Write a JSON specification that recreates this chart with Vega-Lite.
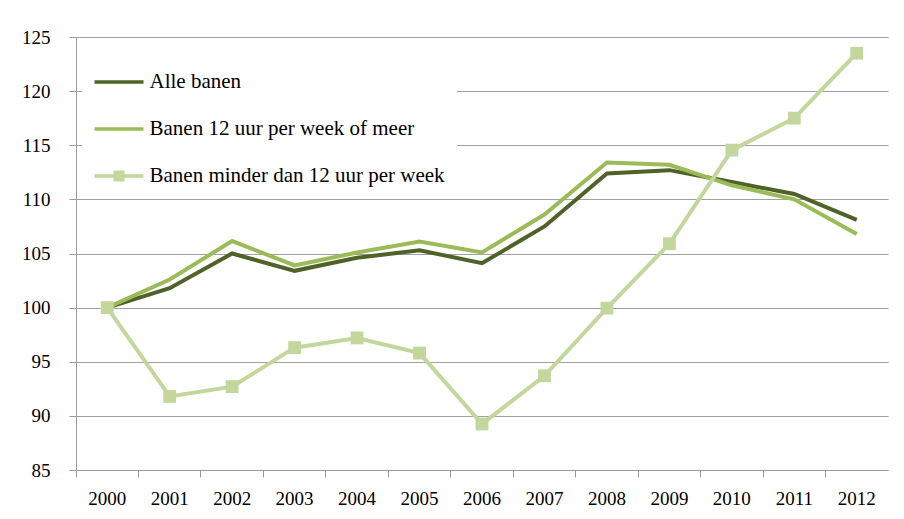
{
  "$schema": "https://vega.github.io/schema/vega-lite/v6.json",
  "width": 812,
  "height": 433,
  "autosize": {"type": "none"},
  "padding": {"left": 76, "top": 37, "right": 16, "bottom": 49},
  "background": "white",
  "config": {
    "view": {"stroke": null},
    "font": "'Liberation Serif', 'DejaVu Serif', serif"
  },
  "data": {
    "values": [
      {"year": "2000", "series": "Alle banen", "value": 100},
      {"year": "2001", "series": "Alle banen", "value": 101.8},
      {"year": "2002", "series": "Alle banen", "value": 105.0},
      {"year": "2003", "series": "Alle banen", "value": 103.4},
      {"year": "2004", "series": "Alle banen", "value": 104.6},
      {"year": "2005", "series": "Alle banen", "value": 105.3},
      {"year": "2006", "series": "Alle banen", "value": 104.1},
      {"year": "2007", "series": "Alle banen", "value": 107.5},
      {"year": "2008", "series": "Alle banen", "value": 112.4},
      {"year": "2009", "series": "Alle banen", "value": 112.7},
      {"year": "2010", "series": "Alle banen", "value": 111.6},
      {"year": "2011", "series": "Alle banen", "value": 110.5},
      {"year": "2012", "series": "Alle banen", "value": 108.1},
      {"year": "2000", "series": "Banen 12 uur per week of meer", "value": 100},
      {"year": "2001", "series": "Banen 12 uur per week of meer", "value": 102.6},
      {"year": "2002", "series": "Banen 12 uur per week of meer", "value": 106.15},
      {"year": "2003", "series": "Banen 12 uur per week of meer", "value": 103.9},
      {"year": "2004", "series": "Banen 12 uur per week of meer", "value": 105.1},
      {"year": "2005", "series": "Banen 12 uur per week of meer", "value": 106.1},
      {"year": "2006", "series": "Banen 12 uur per week of meer", "value": 105.1},
      {"year": "2007", "series": "Banen 12 uur per week of meer", "value": 108.6},
      {"year": "2008", "series": "Banen 12 uur per week of meer", "value": 113.4},
      {"year": "2009", "series": "Banen 12 uur per week of meer", "value": 113.2},
      {"year": "2010", "series": "Banen 12 uur per week of meer", "value": 111.3},
      {"year": "2011", "series": "Banen 12 uur per week of meer", "value": 110.0},
      {"year": "2012", "series": "Banen 12 uur per week of meer", "value": 106.8},
      {"year": "2000", "series": "Banen minder dan 12 uur per week", "value": 100},
      {"year": "2001", "series": "Banen minder dan 12 uur per week", "value": 91.8},
      {"year": "2002", "series": "Banen minder dan 12 uur per week", "value": 92.7},
      {"year": "2003", "series": "Banen minder dan 12 uur per week", "value": 96.3},
      {"year": "2004", "series": "Banen minder dan 12 uur per week", "value": 97.2},
      {"year": "2005", "series": "Banen minder dan 12 uur per week", "value": 95.8},
      {"year": "2006", "series": "Banen minder dan 12 uur per week", "value": 89.25},
      {"year": "2007", "series": "Banen minder dan 12 uur per week", "value": 93.7},
      {"year": "2008", "series": "Banen minder dan 12 uur per week", "value": 99.95},
      {"year": "2009", "series": "Banen minder dan 12 uur per week", "value": 105.9},
      {"year": "2010", "series": "Banen minder dan 12 uur per week", "value": 114.55},
      {"year": "2011", "series": "Banen minder dan 12 uur per week", "value": 117.5},
      {"year": "2012", "series": "Banen minder dan 12 uur per week", "value": 123.5}
    ]
  },
  "encoding": {
    "x": {
      "field": "year",
      "type": "ordinal",
      "scale": {"type": "band", "paddingInner": 0, "paddingOuter": 0},
      "axis": {
        "title": null,
        "bandPosition": 0,
        "labelAngle": 0,
        "labelFont": "'Liberation Serif', 'DejaVu Serif', serif",
        "labelFontSize": 19,
        "labelColor": "#000000",
        "labelPadding": 12,
        "tickSize": 7,
        "tickColor": "#9a9a9a",
        "domainColor": "#9a9a9a",
        "grid": false
      }
    },
    "y": {
      "field": "value",
      "type": "quantitative",
      "scale": {"domain": [85, 125], "zero": false, "nice": false},
      "axis": {
        "title": null,
        "values": [85, 90, 95, 100, 105, 110, 115, 120, 125],
        "labelFont": "'Liberation Serif', 'DejaVu Serif', serif",
        "labelFontSize": 19,
        "labelColor": "#000000",
        "labelPadding": 19,
        "tickSize": 7,
        "tickColor": "#9a9a9a",
        "domainColor": "#9a9a9a",
        "grid": true,
        "gridColor": "#a0a0a0",
        "gridWidth": 1
      }
    },
    "color": {
      "field": "series",
      "type": "nominal",
      "scale": {
        "domain": ["Alle banen", "Banen 12 uur per week of meer", "Banen minder dan 12 uur per week"],
        "range": ["#4F6228", "#9BBB59", "#C3D69B"]
      },
      "legend": {
        "title": null,
        "orient": "none",
        "legendX": 6,
        "legendY": 22.5,
        "padding": 12,
        "fillColor": "white",
        "labelFont": "'Liberation Serif', 'DejaVu Serif', serif",
        "labelFontSize": 21,
        "labelColor": "#000000",
        "labelLimit": 500,
        "labelOffset": 34.5,
        "symbolSize": 400,
        "symbolType": "M-1,-0.175H3.9V0.175H-1Z",
        "symbolStrokeWidth": 0,
        "rowPadding": 25,
        "encode": {
          "symbols": {
            "update": {
              "shape": {"signal": "datum.value === 'Banen minder dan 12 uur per week' ? 'M-1,-0.175H3.9V0.175H-1Z M0.9,-0.55H2.0V0.55H0.9Z' : 'M-1,-0.175H3.9V0.175H-1Z'"},
              "fill": {"scale": "color", "field": "value"},
              "fillOpacity": {"value": 1},
              "strokeWidth": {"value": 0}
            }
          }
        }
      }
    }
  },
  "layer": [
    {
      "mark": {"type": "line", "strokeWidth": 4, "strokeJoin": "miter"}
    },
    {
      "transform": [{"filter": "datum.series === 'Banen minder dan 12 uur per week'"}],
      "mark": {"type": "point", "shape": "square", "filled": true, "size": 165, "opacity": 1},
      "encoding": {
        "color": {"field": "series", "type": "nominal", "legend": null}
      }
    }
  ]
}
